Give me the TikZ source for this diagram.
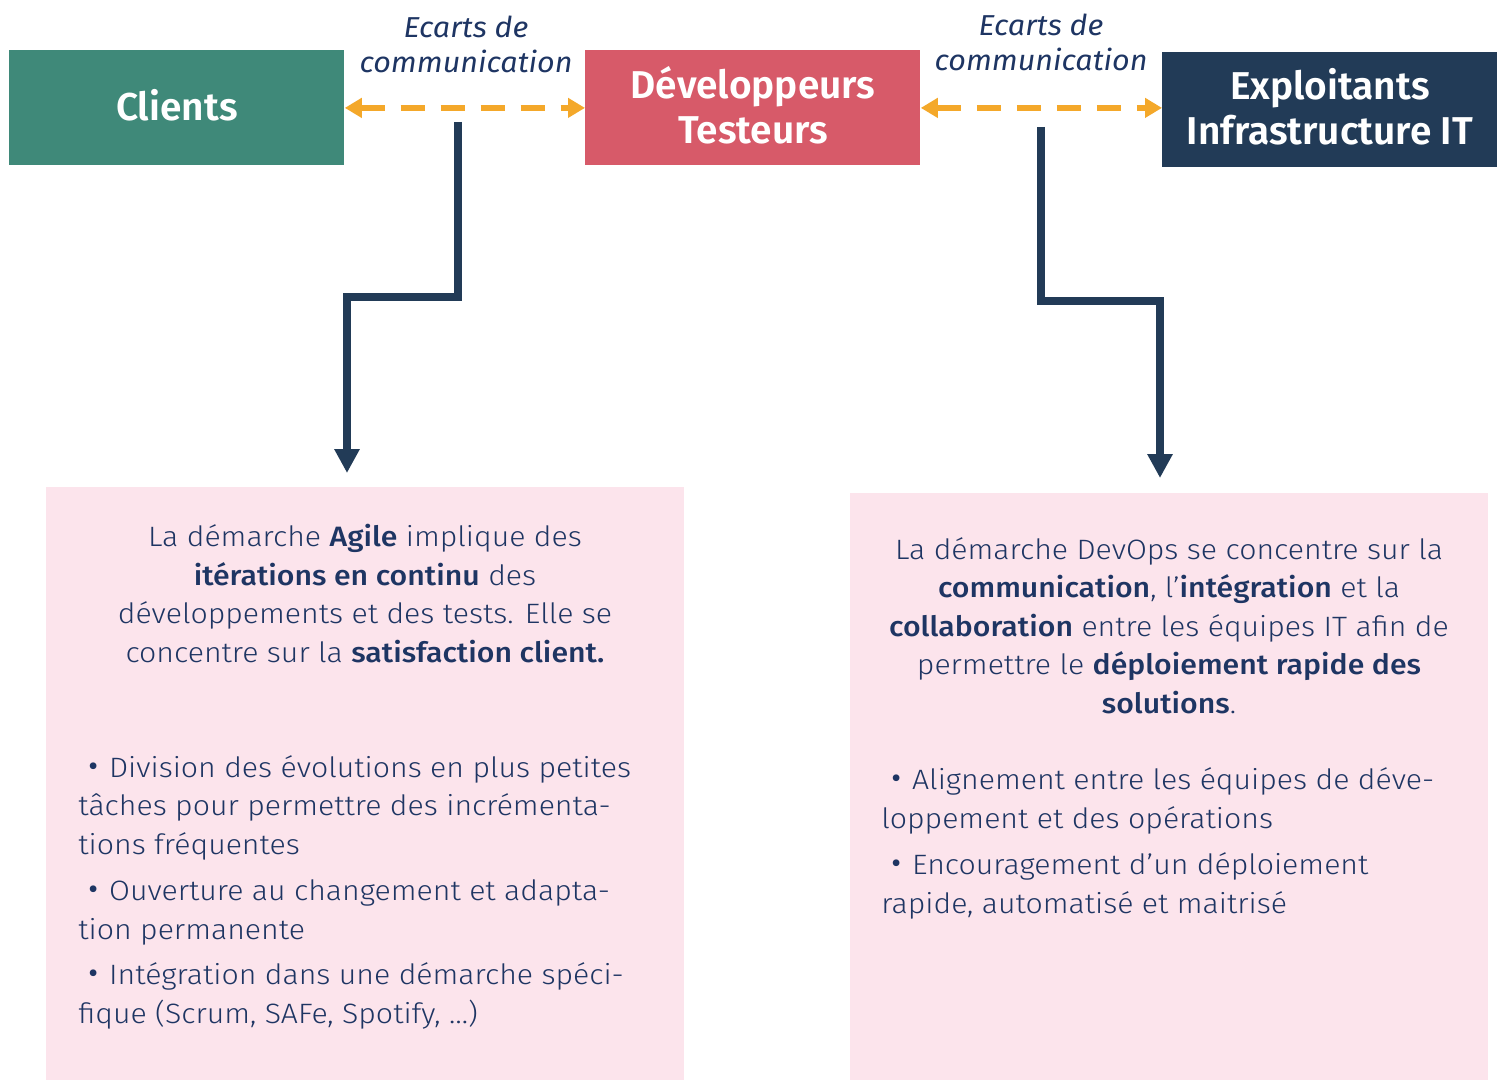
\documentclass[tikz,border=0pt]{standalone}
\usepackage{fontspec}
\setmainfont{Fira Sans}
\newfontfamily\bodyfont{Fira Sans Light}[FakeStretch=1.08,BoldFont={Fira Sans Medium}]
\newfontfamily\headfont{Fira Sans SemiBold}
\newfontfamily\labfont{Fira Sans Italic}[FakeStretch=1.06]
\newfontfamily\bulfont{Fira Sans}
\usetikzlibrary{arrows.meta}
\definecolor{cTeal}{HTML}{3F8979}
\definecolor{cRed}{HTML}{D75A69}
\definecolor{cNavy}{HTML}{223B57}
\definecolor{cOrange}{HTML}{F4A82A}
\definecolor{cPink}{HTML}{FCE4EC}
\definecolor{cText}{HTML}{1E3563}
\tikzset{
  headbox/.style={inner sep=0pt, anchor=north west, minimum width=167.5pt, minimum height=57.5pt},
  headtxt/.style={inner sep=0pt, text=white, align=center, yshift=1.5pt,
    font={\headfont\fontsize{19.4}{22.5}\selectfont}},
  pinkbox/.style={inner sep=0pt, anchor=north west, fill=cPink, minimum width=319pt},
  lab/.style={inner sep=0pt, anchor=base, align=center, text=cText,
    font={\labfont\fontsize{14.4}{17.5}\selectfont}},
  bodyc/.style={inner sep=0pt, anchor=base, align=center, text=cText,
    font={\bodyfont\fontsize{14}{19.25}\selectfont}},
  bodyl/.style={inner sep=0pt, anchor=base west, align=left, text=cText,
    font={\bodyfont\fontsize{14}{19.25}\selectfont}},
  dasharrow/.style={draw=cOrange, line width=3pt, dash pattern=on 12pt off 8pt,
    {Triangle[width=9.5pt,length=8.5pt]}-{Triangle[width=9.5pt,length=8.5pt]}},
  conn/.style={draw=cNavy, line width=4pt, -{Triangle[width=12pt,length=12pt]}}
}
\newcommand\bul{\hspace*{5pt}\raisebox{0.3pt}{\bulfont\fontsize{15}{15}\selectfont•}\hspace{5.5pt}}
\begin{document}
\begin{tikzpicture}[x=0.5pt,y=-0.5pt]
\useasboundingbox[fill=white] (0,0) rectangle (1502,1080);

% header boxes
\node[headbox, fill=cTeal] (cl) at (9,50) {};
\node[headbox, fill=cRed] (dev) at (585,50) {};
\node[headbox, fill=cNavy] (exp) at (1162,52) {};
\node[headtxt] (clt) at (cl.center) {Clients};
\node[headtxt] (devt) at (dev.center) {Développeurs\\Testeurs};
\node[headtxt] (expt) at (exp.center) {Exploitants\\Infrastructure IT};

% labels
\node[lab] (e1) at (466,73) {Ecarts de\\communication};
\node[lab] (e2) at (1041,71) {Ecarts de\\communication};

% dashed arrows
\draw[dasharrow] (cl.east) -- (dev.west);
\draw[dasharrow] (dev.east) -- (dev.east -| exp.west);

% pink boxes
\node[pinkbox, minimum height=296.5pt] (agile) at (46,487) {};
\node[pinkbox, minimum height=293.5pt] (devops) at (850,493) {};

% connectors
\coordinate (s1) at (458,122);
\coordinate (t1) at (347,473);
\coordinate (s2) at (1041,127);
\coordinate (t2) at (1160,478);
\draw[conn] (s1) -- ++(0,175) -| (t1);
\draw[conn] (s2) -- ++(0,174) -| (t2);

% agile text
\node[bodyc] (a0) at (365,662) {La démarche \textbf{Agile} implique des\\
\textbf{itérations en continu} des\\
développements et des tests. Elle se\\
concentre sur la \textbf{satisfaction client.}};
\node[bodyl] (a1) at (78,854) {\bul Division des évolutions en plus petites\\
tâches pour permettre des incrémenta-\\
tions fréquentes};
\node[bodyl] (a2) at (78,939) {\bul Ouverture au changement et adapta-\\
tion permanente};
\node[bodyl] (a3) at (78,1023) {\bul Intégration dans une démarche spéci-\\
fique (Scrum, SAFe, Spotify, …)};

% devops text
\node[bodyc] (d0) at (1169,713) {La démarche DevOps se concentre sur la\\
\textbf{communication}, l’\textbf{intégration} et la\\
\textbf{collaboration} entre les équipes IT afin de\\
permettre le \textbf{déploiement rapide des}\\
\textbf{solutions}.};
\node[bodyl] (d1) at (881,828) {\bul Alignement entre les équipes de déve-\\
loppement et des opérations};
\node[bodyl] (d2) at (881,913) {\bul Encouragement d’un déploiement\\
rapide, automatisé et maitrisé};
\end{tikzpicture}
\end{document}
